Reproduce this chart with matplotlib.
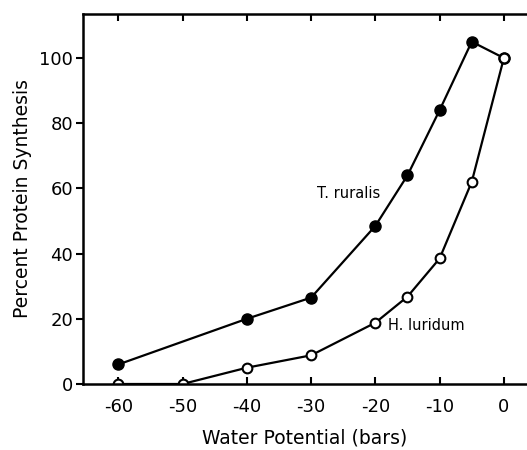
import matplotlib
matplotlib.use("Agg")
import matplotlib.pyplot as plt

x_rur = [-60, -40, -30, -20, -15, -10, -5, 0]
y_rur = [6, 20, 26.5, 48.5, 64, 84, 105, 100]
x_lur = [-60, -50, -40, -30, -20, -15, -10, -5, 0]
y_lur = [0, 0, 5, 8.8, 18.8, 26.8, 38.5, 62, 100]
xticks = [-60, -50, -40, -30, -20, -10, 0]
yticks = [0, 20, 40, 60, 80, 100]

plt.rcParams['font.family'] = ['DejaVu Sans']
fig = plt.figure(figsize=(5.27, 4.5), dpi=100)
ax = fig.add_axes([83/527, 1-384/450, 1-83/527, (384-14)/450])
ax.plot(x_rur, y_rur, '-o', color='black', mfc='black', ms=8, lw=1.6, clip_on=False, zorder=3)
ax.plot(x_lur, y_lur, '-o', color='black', mfc='white', ms=7, mew=1.5, lw=1.6, clip_on=True, zorder=3)
ax.set_xlim(-65.5, 3.6)
ax.set_ylim(0, 113.5)
ax.set_xticks(xticks)
ax.set_xticklabels([str(t) for t in xticks])
ax.set_yticks(yticks)
ax.spines['right'].set_visible(False)
for s in ['left', 'bottom', 'top']:
    ax.spines[s].set_linewidth(1.8)
    ax.spines[s].set_zorder(4)
ax.tick_params(axis='x', direction='in', top=True, length=5, width=1.5, labelsize=13, pad=10)
ax.tick_params(axis='y', direction='out', length=5, width=1.5, labelsize=13, pad=2)
ax.set_xlabel('Water Potential (bars)', fontsize=13.5, labelpad=9)
ax.set_ylabel('Percent Protein Synthesis', fontsize=13.5, labelpad=5)
ax.text(-29.1, 58.3, 'T. ruralis', fontsize=10.5, ha='left', va='center')
ax.text(-18.1, 18, 'H. luridum', fontsize=10.5, ha='left', va='center')
fig.savefig('out.png', dpi=100)
